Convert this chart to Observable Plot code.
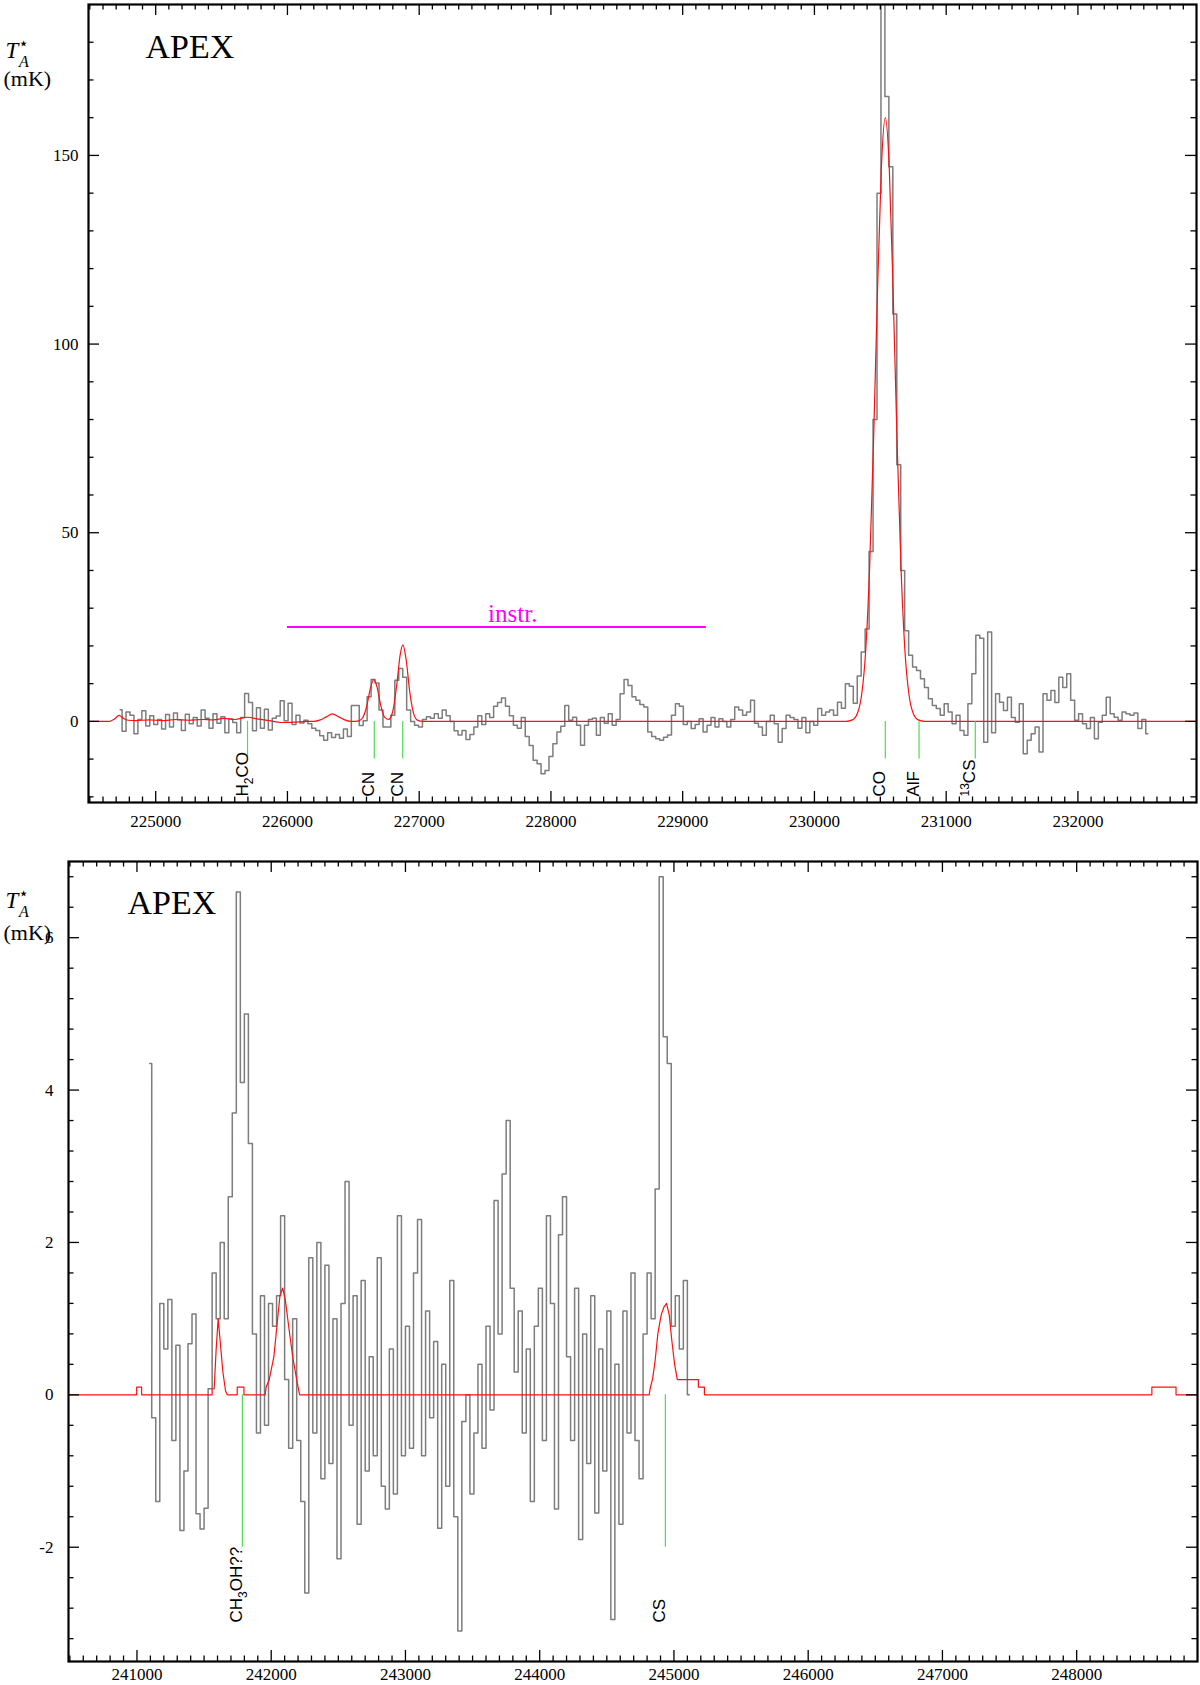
<!DOCTYPE html>
<html><head><meta charset="utf-8">
<script src="https://cdn.jsdelivr.net/npm/d3@7"></script>
<script src="https://cdn.jsdelivr.net/npm/@observablehq/plot@0.6"></script>
<style>
body{margin:0;background:#fff;}
#wrap{position:relative;width:1200px;height:1685px;overflow:hidden;}
#wrap svg{display:block;}
</style></head><body><div id="wrap"></div>
<script>
// ---------------- DATA ----------------
// Upper spectrum (observed, histogram channels)
const topStart = 224730, topStep = 30;
const topValues = [
 3.1,-2.6,2.5,1.6,-3.3,0.5,2.8,-1.2,1.5,-0.8,
 0.5,-2.0,1.8,-1.5,2.2,0.4,-2.4,1.9,-0.6,1.0,
 -1.2,3.0,0.8,-1.8,2.0,-0.5,1.2,-3.0,0.6,-0.3,
 -3.0,1.0,7.4,5.0,-2.5,3.6,-1.8,3.2,-2.3,0.8,
 1.4,5.5,0.2,4.8,-0.8,1.6,-0.4,0.3,-0.6,-1.8,
 -2.4,-3.8,-5.0,-3.0,-4.3,-3.5,-4.5,-2.0,-4.0,4.2,
 4.2,-1.1,0.2,6.5,11.1,10.2,3.0,-1.5,-1.5,1.6,
 10.9,14.0,11.7,3.0,0.0,-1.0,-1.5,0.5,1.2,0.8,
 2.0,0.8,3.0,1.5,0.0,-2.5,-3.6,-2.4,-4.8,-3.5,
 -1.5,1.5,-0.8,2.0,1.0,4.0,5.0,6.2,4.0,1.5,
 -1.0,-1.8,1.0,-4.0,-6.4,-10.3,-11.2,-13.9,-13.0,-9.3,
 -5.9,-2.8,-1.3,4.2,0.3,1.1,-1.0,-6.3,-1.0,0.5,
 0.8,-3.7,1.0,-0.5,2.0,-1.0,0.5,7.3,11.1,9.5,
 6.5,5.6,4.5,3.8,-2.8,-4.0,-4.6,-5.0,-4.2,-3.6,
 1.6,4.7,4.0,-0.8,0.0,-1.9,-0.8,0.7,-2.8,-1.0,
 1.0,-1.5,0.7,0.0,-1.5,0.5,3.8,3.0,1.6,2.5,
 5.6,-0.5,-1.5,-3.7,0.0,1.6,-0.6,-5.5,-1.9,1.6,
 1.0,0.5,-1.8,1.0,-3.0,0.0,-1.0,3.4,1.6,2.5,
 3.0,1.6,5.1,3.5,10.0,9.3,4.8,12.0,18.4,24.5,
 45,80,140,200,165.6,147,108,68,40,24,
 17.5,14.4,13.5,11.3,9.0,6.0,4.2,3.4,1.6,4.7,
 2.5,-0.6,1.6,-2.4,-3.7,4.7,12.6,22.8,22.0,-5.5,
 23.7,-3.0,7.3,5.1,2.9,6.4,1.0,-0.2,4.7,-8.6,
 -5.0,-3.3,-1.5,-8.1,7.3,5.6,8.2,5.0,11.7,9.0,
 12.6,5.6,0.3,2.0,-0.6,-1.9,1.0,-4.6,-0.2,1.6,
 6.4,2.0,1.1,0.3,2.5,2.0,1.6,2.2,-1.9,0.5,-3.3
];
// Upper model (red)
const topModelFreq = [224490,224650,224690,224722,224755,224790,224850,224950,225050,225150,225250,225350,225440,225518,225600,225697,225780,225860,225950,226050,226150,226200,226250,226295,226341,226390,226435,226480,226520,226545,226570,226600,226630,226656,226680,226710,226740,226770,226800,226830,226855,226876,226900,226930,226960,226990,227030,230240,230288,230328,230358,230388,230418,230448,230478,230508,230538,230568,230598,230628,230658,230688,230718,230748,230788,230840,232900];
const topModelT    = [0,0,0.7,1.6,0.8,0.3,0.2,0.4,0.2,0.5,0.3,0.5,0.4,0.8,0.5,1.1,0.6,0.2,-0.3,-0.2,0,0,0.4,1.2,2.0,1.2,0.4,0,0,0.2,0.9,3.75,8.8,11.1,9.1,4.0,1.0,0.55,2.75,9.75,17.5,20.3,16.6,7.4,1.8,0.25,0,0,0.4,2.3,7.0,18.2,39.9,73.3,113,146.7,160,146.7,113,73.3,39.9,18.2,7.0,2.3,0.4,0,0];
const topLineFreq = [225697,226659,226875,230538,230794,231221];
const topLineName = ["H2CO","CN","CN","CO","AlF","13CS"];

// Lower spectrum
const botStart = 241095, botStep = 30;
const botValues = [
 4.35,-0.3,-1.4,1.2,0.6,1.25,-0.6,0.65,-1.78,-1.0,
 0.67,1.06,-1.56,-1.76,-1.49,0.08,1.6,1.0,2.0,1.0,
 2.6,3.7,6.6,4.1,5.0,3.3,0.8,-0.5,1.3,-0.4,
 1.2,0.9,1.3,2.35,0.2,-0.7,1.0,-0.6,-1.4,-2.6,
 1.8,-0.5,2.0,-1.1,1.7,-0.9,1.0,-2.15,1.2,2.8,
 -0.4,1.3,-1.7,1.5,-1.0,0.5,-0.8,1.8,-1.2,-1.5,
 0.6,-1.3,2.35,-0.8,0.9,-0.7,1.6,2.3,-0.8,1.1,
 -0.3,0.7,-1.75,0.4,-1.2,1.5,-1.6,-3.1,-0.35,0.0,
 -1.3,-0.5,0.4,-0.7,0.9,-0.2,2.55,0.8,2.9,3.6,
 1.4,0.3,1.1,-0.5,0.6,-1.4,0.9,1.4,-0.6,2.35,
 1.2,-1.5,2.1,2.6,0.5,-0.6,1.4,-1.9,0.8,-0.9,
 1.3,-1.55,0.6,-1.0,1.1,-2.95,0.4,-1.7,1.1,-0.5,
 1.6,-0.6,-1.1,0.8,1.6,1.0,2.7,6.8,4.7,4.35,
 0.9,1.3,0.6,1.5,0.0
];
const botModelFreq = [240490,240998,240998,241035,241035,241560,241560,241575,241590,241605,241620,241640,241660,241673,241747,241747,241797,241797,241955,241962,241985,242020,242045,242065,242085,242105,242130,242160,242185,242200,242212,244815,244825,244840,244860,244880,244905,244925,244945,244965,244985,245005,245025,245182,245182,245227,245227,248560,248560,248740,248740,248900];
const botModelT    = [0,0,0.1,0.1,0,0,0.08,0.08,0.6,1.0,0.7,0.3,0.05,0,0,0.1,0.1,0,0,0.1,0.2,0.5,0.95,1.3,1.4,1.25,0.9,0.5,0.25,0.1,0,0,0.1,0.2,0.45,0.8,1.05,1.15,1.2,1.05,0.7,0.4,0.2,0.2,0.1,0.1,0,0,0.1,0.1,0,0];
const botLineFreq = [241785,244936];
const botLineName = ["CH3OH??","CS"];

// Axis ticks
const topXMajor = [225000,226000,227000,228000,229000,230000,231000,232000];
const topYMajor = [0,50,100,150];
const botXMajor = [241000,242000,243000,244000,245000,246000,247000,248000];
const botYMajor = [-2,0,2,4,6];

const SERIF = "'Liberation Serif', 'Times New Roman', Times, serif";
const SANS = "'Liberation Sans', Arial, Helvetica, sans-serif";

const rich = {
  "H2CO": 'H<tspan dy="5" font-size="12">2</tspan><tspan dy="-5">CO</tspan>',
  "13CS": '<tspan dy="-6" font-size="12">13</tspan><tspan dy="6">CS</tspan>',
  "CH3OH??": 'CH<tspan dy="5" font-size="12">3</tspan><tspan dy="-5">OH??</tspan>',
  "TA*": '<tspan font-style="italic">T</tspan><tspan font-size="17" dy="-9" font-family="DejaVu Sans">⋆</tspan><tspan font-style="italic" font-size="16" dx="-10" dy="18">A</tspan>'
};

// ---------------- PANELS ----------------
function panel(cfg) {
  const fw = cfg.width - cfg.ml - cfg.mr, fh = cfg.height - cfg.mt - cfg.mb;
  const data = cfg.values.map((v, i) => ({f: cfg.start + i * cfg.step, t: v}));
  const model = cfg.modelFreq.map((f, i) => ({f, t: cfg.modelT[i]}));
  const lines = cfg.lineFreq.map((f, i) => ({f, name: cfg.lineName[i]}));
  const xMinor = d3.range(Math.ceil(cfg.xDomain[0] / 100) * 100, cfg.xDomain[1], 100).filter(d => d % 1000 !== 0);
  const yMinor = d3.range(cfg.yMinorStart, cfg.yDomain[1] - 1e-9, cfg.yMinorStep).map(d => +d.toFixed(3)).filter(d => !cfg.yMajor.some(m => Math.abs(m - d) < 1e-6) && d > cfg.yDomain[0]);
  const tk = {stroke: "black", strokeWidth: 1.3};
  const marks = [
    Plot.line(data, {x: "f", y: "t", curve: "step", stroke: "#7d7d7d", strokeWidth: 1.5, clip: true}),
    Plot.line(model, {x: "f", y: "t", curve: cfg.curve, stroke: "#ff1010", strokeWidth: 1.2, clip: true}),
    Plot.ruleX(lines, {x: "f", y1: 0, y2: cfg.lineBottom, stroke: "#4ddd4d", strokeWidth: 1.2}),
    Plot.text(lines, {x: "f", text: "name", frameAnchor: "bottom", rotate: -90, textAnchor: "start", dy: -cfg.labelLift, fontFamily: SANS, fontSize: 17, fill: "black"}),
    Plot.ruleX(cfg.xMajor, {...tk, insetTop: fh - 11}),
    Plot.ruleX(cfg.xMajor, {...tk, insetBottom: fh - 11}),
    Plot.ruleX(xMinor, {...tk, insetTop: fh - 5.5}),
    Plot.ruleX(xMinor, {...tk, insetBottom: fh - 5.5}),
    Plot.ruleY(cfg.yMajor, {...tk, insetRight: fw - 11}),
    Plot.ruleY(cfg.yMajor, {...tk, insetLeft: fw - 11}),
    Plot.ruleY(yMinor, {...tk, insetRight: fw - 5.5}),
    Plot.ruleY(yMinor, {...tk, insetLeft: fw - 5.5}),
    Plot.axisX({anchor: "bottom", ticks: cfg.xMajor, tickSize: 0, tickPadding: cfg.xPad, tickFormat: d => String(d), label: null, fontSize: 17, fontFamily: SERIF}),
    Plot.axisY({anchor: "left", ticks: cfg.yMajor, tickSize: 0, tickPadding: cfg.yPad, tickFormat: d => String(d), label: null, fontSize: 17, fontFamily: SERIF}),
    Plot.frame({stroke: "black", strokeWidth: 2.2}),
    Plot.text([0], {frameAnchor: "top-left", text: () => "APEX", dx: cfg.apexDx, dy: cfg.apexDy, textAnchor: "start", lineAnchor: "bottom", fontSize: 34, fontFamily: SERIF, fill: "black"}),
    Plot.text([0], {frameAnchor: "top-left", text: () => "TA*", dx: 5 - cfg.ml, dy: cfg.tDy, textAnchor: "start", lineAnchor: "bottom", fontSize: 23, fontFamily: SERIF, fill: "black"}),
    Plot.text([0], {frameAnchor: "top-left", text: () => "(mK)", dx: 3 - cfg.ml, dy: cfg.mkDy, textAnchor: "start", lineAnchor: "bottom", fontSize: 22, fontFamily: SERIF, fill: "black"}),
    ...(cfg.extra || [])
  ];
  const svg = Plot.plot({
    width: cfg.width, height: cfg.height,
    marginLeft: cfg.ml, marginRight: cfg.mr, marginTop: cfg.mt, marginBottom: cfg.mb,
    x: {domain: cfg.xDomain},
    y: {domain: cfg.yDomain},
    style: {fontFamily: SERIF, fontSize: "17px", background: "white", color: "black", overflow: "visible"},
    marks
  });
  d3.select(svg).selectAll("text").each(function () {
    const t = this.textContent;
    if (rich[t]) this.innerHTML = rich[t];
  });
  return svg;
}

const wrap = document.getElementById("wrap");
wrap.appendChild(panel({
  width: 1200, height: 845, ml: 88, mr: 4, mt: 4, mb: 43,
  xDomain: [224490, 232900], yDomain: [-21.5, 190],
  start: topStart, step: topStep, values: topValues,
  modelFreq: topModelFreq, modelT: topModelT, curve: "monotone-x",
  lineFreq: topLineFreq, lineName: topLineName, lineBottom: -10, labelLift: 6,
  xMajor: topXMajor, yMajor: topYMajor, yMinorStart: -20, yMinorStep: 10,
  xPad: 12, yPad: 10, apexDx: 57, apexDy: 53, tDy: 53, mkDy: 81,
  extra: [
    Plot.ruleY([25], {x1: 226000, x2: 229180, stroke: "#ff00ff", strokeWidth: 2}),
    Plot.text([25], {x: 227710, y: d => d, text: () => "instr.", dy: -5, lineAnchor: "bottom", fill: "#ff00ff", fontSize: 25, fontFamily: SERIF})
  ]
}));
wrap.appendChild(panel({
  width: 1200, height: 840, ml: 68, mr: 3, mt: 16, mb: 24,
  xDomain: [240490, 248900], yDomain: [-3.5, 7.0],
  start: botStart, step: botStep, values: botValues,
  modelFreq: botModelFreq, modelT: botModelT, curve: "linear",
  lineFreq: botLineFreq, lineName: botLineName, lineBottom: -2, labelLift: 39,
  xMajor: botXMajor, yMajor: botYMajor, yMinorStart: -3.2, yMinorStep: 0.4,
  xPad: 6, yPad: 15, apexDx: 59, apexDy: 52, tDy: 46, mkDy: 78
}));
</script></body></html>
